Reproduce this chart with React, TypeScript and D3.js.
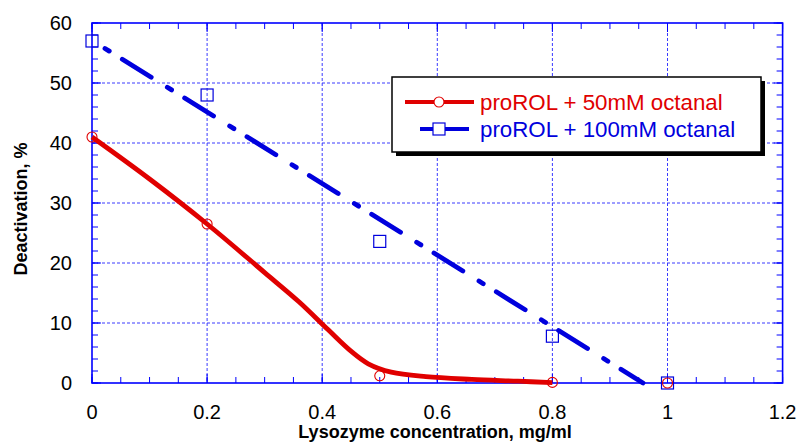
import React from "react";
import * as d3 from "d3";

// Measured deactivation (%) vs lysozyme concentration (mg/ml)
const concentrations = [0, 0.2, 0.5, 0.8, 1.0];
const deact50 = [41, 26.5, 1.2, 0.1, 0];
const deact100 = [57, 48, 23.6, 7.8, 0];

// Smoothed trend for the 50mM series
const trend50X = [0, 0.1, 0.2, 0.3, 0.36, 0.41, 0.45, 0.48, 0.52, 0.58, 0.66, 0.74, 0.8];
const trend50Y = [41, 34, 26.5, 18.4, 13.5, 8.9, 5.3, 3.2, 1.8, 1.05, 0.6, 0.3, 0.05];

const xTicks = [0, 0.2, 0.4, 0.6, 0.8, 1, 1.2];
const yTicks = [0, 10, 20, 30, 40, 50, 60];
const xMinorStep = 0.05;
const yMinorStep = 2;

const seriesNames = ["proROL + 50mM octanal", "proROL + 100mM octanal"];
const xTitle = "Lysozyme concentration, mg/ml";
const yTitle = "Deactivation, %";

const W = 799;
const H = 443;
const left = 92;
const right = 782.6;
const top = 23;
const bottom = 383;

const RED = "#e00000";
const BLUE = "#0000dd";
const AXIS = "#0000ff";
const GRID = "#3a3aff";
const FONT = "'Liberation Sans', Arial, Helvetica, sans-serif";

export default function App() {
  const x = d3.scaleLinear().domain([0, 1.2]).range([left, right]);
  const y = d3.scaleLinear().domain([0, 60]).range([bottom, top]);

  // least-squares line for the 100mM series
  const mx = d3.mean(concentrations)!;
  const my = d3.mean(deact100)!;
  const sxy = d3.sum(concentrations, (c, i) => (c - mx) * (deact100[i] - my));
  const sxx = d3.sum(concentrations, (c) => (c - mx) * (c - mx));
  const slope = sxy / sxx;
  const intercept = my - slope * mx;
  const xZero = -intercept / slope;
  const fitLine = d3
    .line<number>()
    .x((c) => x(c))
    .y((c) => y(intercept + slope * c));
  const fitPath = fitLine([0, xZero]) || "";

  const trendPath =
    d3
      .line<number>()
      .x((_, i) => x(trend50X[i]))
      .y((v) => y(v))
      .curve(d3.curveCatmullRom.alpha(0.5))(trend50Y) || "";

  const xMinor = d3.range(0, 1.2 + 1e-9, xMinorStep);
  const yMinor = d3.range(0, 60 + 1e-9, yMinorStep);

  const legX = 392;
  const legY = 77;
  const legW = 369;
  const legH = 75;

  return (
    <svg
      width={W}
      height={H}
      style={{ position: "absolute", left: 0, top: 0, background: "#fff" }}
      fontFamily={FONT}
    >
      <rect x={0} y={0} width={W} height={H} fill="#fff" />

      {/* grid */}
      <g stroke={GRID} strokeWidth={1} strokeDasharray="3 2">
        {xTicks.slice(1, -1).map((t) => (
          <line key={"gx" + t} x1={x(t)} x2={x(t)} y1={top} y2={bottom} />
        ))}
        {yTicks.slice(1, -1).map((t) => (
          <line key={"gy" + t} x1={left} x2={right} y1={y(t)} y2={y(t)} />
        ))}
      </g>

      {/* minor & major ticks on all four sides */}
      <g stroke={AXIS} strokeWidth={1}>
        {xMinor.map((t, i) => (
          <g key={"xt" + i}>
            <line x1={x(t)} x2={x(t)} y1={bottom} y2={bottom - 6} />
            <line x1={x(t)} x2={x(t)} y1={top} y2={top + 6} />
          </g>
        ))}
        {yMinor.map((t, i) => (
          <g key={"yt" + i}>
            <line x1={left} x2={left + 6} y1={y(t)} y2={y(t)} />
            <line x1={right} x2={right - 6} y1={y(t)} y2={y(t)} />
          </g>
        ))}
        {xTicks.map((t) => (
          <g key={"xM" + t}>
            <line x1={x(t)} x2={x(t)} y1={bottom} y2={bottom - 9} />
            <line x1={x(t)} x2={x(t)} y1={top} y2={top + 9} />
          </g>
        ))}
        {yTicks.map((t) => (
          <g key={"yM" + t}>
            <line x1={left} x2={left + 9} y1={y(t)} y2={y(t)} />
            <line x1={right} x2={right - 9} y1={y(t)} y2={y(t)} />
          </g>
        ))}
      </g>

      {/* frame */}
      <rect
        x={left}
        y={top}
        width={right - left}
        height={bottom - top}
        fill="none"
        stroke={AXIS}
        strokeWidth={1.6}
      />

      {/* tick labels */}
      <g fontSize={20} fill="#000">
        {xTicks.map((t) => (
          <text key={"xl" + t} x={x(t)} y={419} textAnchor="middle">
            {String(t)}
          </text>
        ))}
        {yTicks.map((t) => (
          <text key={"yl" + t} x={72} y={y(t) + 7.3} textAnchor="end">
            {String(t)}
          </text>
        ))}
      </g>

      {/* axis titles */}
      <text
        x={435}
        y={438}
        textAnchor="middle"
        fontSize={18}
        fontWeight="bold"
        fill="#000"
      >
        {xTitle}
      </text>
      <text
        transform={`translate(27,209) rotate(-90)`}
        textAnchor="middle"
        fontSize={18}
        fontWeight="bold"
        fill="#000"
      >
        {yTitle}
      </text>

      {/* 100mM regression line */}
      <path
        d={fitPath}
        fill="none"
        stroke={BLUE}
        strokeWidth={4.8}
        strokeDasharray="34 19 5 15.4"
        strokeDashoffset={37.7}
        strokeLinecap="round"
      />

      {/* 50mM smoothed curve */}
      <path d={trendPath} fill="none" stroke={RED} strokeWidth={4.8} strokeLinejoin="round" />

      {/* markers */}
      <g fill="none" stroke={BLUE} strokeWidth={1.2}>
        {concentrations.map((c, i) => (
          <rect key={"sq" + i} x={x(c) - 6} y={y(deact100[i]) - 6} width={12} height={12} />
        ))}
      </g>
      <g fill="none" stroke={RED} strokeWidth={1.1}>
        {concentrations.map((c, i) => (
          <circle key={"ci" + i} cx={x(c)} cy={y(deact50[i])} r={5} />
        ))}
      </g>

      {/* legend */}
      <rect x={legX + 4} y={legY + 4} width={legW} height={legH} fill="#000" />
      <rect x={legX} y={legY} width={legW} height={legH} fill="#fff" stroke="#000" strokeWidth={1.5} />
      <line x1={405} x2={474} y1={102} y2={102} stroke={RED} strokeWidth={4} />
      <circle cx={439} cy={102} r={5} fill="#fff" stroke={RED} strokeWidth={1.1} />
      <text x={480} y={110} fontSize={22.3} fill={RED}>
        {seriesNames[0]}
      </text>
      <line x1={420} x2={469} y1={129} y2={129} stroke={BLUE} strokeWidth={4} />
      <rect x={433} y={123} width={12} height={12} fill="#fff" stroke={BLUE} strokeWidth={1.2} />
      <text x={480} y={137} fontSize={22.3} fill={BLUE}>
        {seriesNames[1]}
      </text>
    </svg>
  );
}
